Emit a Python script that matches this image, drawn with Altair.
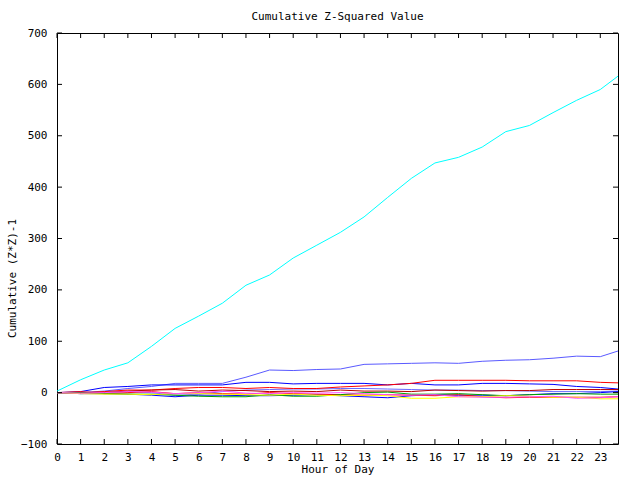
import altair as alt
import pandas as pd

hours = [0, 1, 2, 3, 4, 5, 6, 7, 8, 9, 10, 11, 12, 13, 14, 15, 16, 17, 18, 19, 20, 21, 22, 23, 23.75]

cyan = [3, 25, 44, 58, 90, 125, 149, 174, 209, 229, 262, 287, 312, 342, 380, 417, 447, 458, 478, 508, 520, 545, 569, 590, 616]
med_blue = [0, 0, 3, 8, 12, 18, 18, 18, 30, 44, 43, 45, 46, 55, 56, 57, 58, 57, 61, 63, 64, 67, 71, 70, 81]
light_blue = [0, -2, 0, 2, 0, -5, -3, 2, 5, 6, 7, 7, 8, 8, 7, 6, 5, 5, 4, 4, 3, 2, 2, 2, 3]
blue_a = [0, 2, 10, 12, 15, 15, 15, 15, 20, 20, 17, 18, 18, 18, 15, 18, 15, 15, 18, 18, 17, 16, 12, 10, 7]
blue_b = [0, -2, -2, -3, -5, -8, -5, -5, -6, -6, -5, -4, -6, -8, -10, -6, -4, -5, -5, -6, -4, -2, -2, 0, 2]
red_a = [0, 0, 2, 5, 5, 8, 10, 10, 8, 10, 8, 8, 11, 13, 15, 18, 24, 24, 24, 24, 23, 23, 23, 20, 19]
dark_red = [0, -1, 0, 3, 5, 6, 3, 5, 4, 2, 3, 2, 5, 3, 3, 2, 5, 4, 3, 4, 4, 6, 6, 6, 6]
red_c = [0, 2, -2, 0, 2, -2, 0, -2, -3, 0, -2, -3, -4, -5, -4, -5, -6, -4, -8, -10, -9, -9, -9, -9, -8]
green = [0, 0, -2, -3, -3, -5, -7, -8, -8, -4, -7, -7, -4, 0, 1, -3, -3, -2, -4, -6, -4, -3, -2, -3, -3]
yellow = [0, -2, -3, -3, -4, -2, -2, -3, -4, -5, -3, -5, -6, -5, -6, -11, -11, -8, -8, -6, -7, -9, -9, -12, -12]
pink = [0, -1, 0, 2, 1, -2, 0, 3, -1, -2, 0, -1, 0, -2, -4, -5, -4, -8, -9, -9, -8, -7, -11, -10, -8]

names = ["cyan", "med_blue", "light_blue", "blue_a", "blue_b", "red_a", "dark_red", "red_c", "green", "yellow", "pink"]
colors = ["#00ffff", "#5a5aff", "#6a6aff", "#0000ff", "#0000ff", "#ff0000", "#b80000", "#ff0000", "#00a000", "#ffff00", "#ff50ff"]
series_vals = [cyan, med_blue, light_blue, blue_a, blue_b, red_a, dark_red, red_c, green, yellow, pink]

x_ticks = list(range(0, 24))
y_ticks = [-100, 0, 100, 200, 300, 400, 500, 600, 700]

rows = []
for name, vals in zip(names, series_vals):
    for h, v in zip(hours, vals):
        rows.append({"hour": h, "value": v, "series": name})
df = pd.DataFrame(rows)

W, H = 561, 411
FONT = "DejaVu Sans Mono"
FS = 11

x_scale = alt.Scale(domain=[0, 23.75], nice=False, zero=False)
y_scale = alt.Scale(domain=[-100, 700], nice=False, zero=False)

x_axis = alt.Axis(values=x_ticks, title="Hour of Day", tickSize=0, domain=False, grid=False,
                  labelPadding=7, labelFont=FONT, labelFontSize=FS, labelColor="black",
                  titleFont=FONT, titleFontSize=FS, titleFontWeight="normal", titleColor="black",
                  titleY=25, titleBaseline="middle", labelFlush=False, labelOverlap=False)
y_axis = alt.Axis(values=y_ticks, title="Cumulative (Z*Z)-1", tickSize=0, domain=False, grid=False,
                  labelPadding=10, labelFont=FONT, labelFontSize=FS, labelColor="black",
                  titleFont=FONT, titleFontSize=FS, titleFontWeight="normal", titleColor="black",
                  titleAngle=270, titleX=-45, titleY=245, titleAlign="center", titleBaseline="middle",
                  labelFlush=False, labelOverlap=False)

lines = alt.Chart(df).mark_line(strokeWidth=1, clip=True).encode(
    x=alt.X("hour:Q", scale=x_scale, axis=x_axis),
    y=alt.Y("value:Q", scale=y_scale, axis=y_axis),
    color=alt.Color("series:N", scale=alt.Scale(domain=names, range=colors), legend=None, sort=names),
    detail="series:N",
)

xt = pd.DataFrame({"hour": x_ticks})
yt = pd.DataFrame({"value": y_ticks})

xb = alt.Chart(xt).mark_rule(color="black", strokeWidth=1).encode(
    x=alt.X("hour:Q", scale=x_scale, axis=x_axis), y=alt.value(H), y2=alt.value(H - 5))
xtop = alt.Chart(xt).mark_rule(color="black", strokeWidth=1).encode(
    x=alt.X("hour:Q", scale=x_scale, axis=x_axis), y=alt.value(0), y2=alt.value(5))
yl = alt.Chart(yt).mark_rule(color="black", strokeWidth=1).encode(
    y=alt.Y("value:Q", scale=y_scale, axis=y_axis), x=alt.value(0), x2=alt.value(5))
yr = alt.Chart(yt).mark_rule(color="black", strokeWidth=1).encode(
    y=alt.Y("value:Q", scale=y_scale, axis=y_axis), x=alt.value(W), x2=alt.value(W - 5))

chart = alt.layer(lines, xb, xtop, yl, yr).properties(
    width=W, height=H,
    title=alt.TitleParams("Cumulative Z-Squared Value", font=FONT, fontSize=FS, fontWeight="normal",
                          color="black", anchor="middle", offset=5),
    autosize=alt.AutoSizeParams(type="none"),
    padding={"left": 57, "top": 33, "right": 22, "bottom": 36},
    background="white",
).configure_view(stroke="black", strokeWidth=1)

chart.save("out.html", embed_options={"renderer": "svg", "actions": False})
